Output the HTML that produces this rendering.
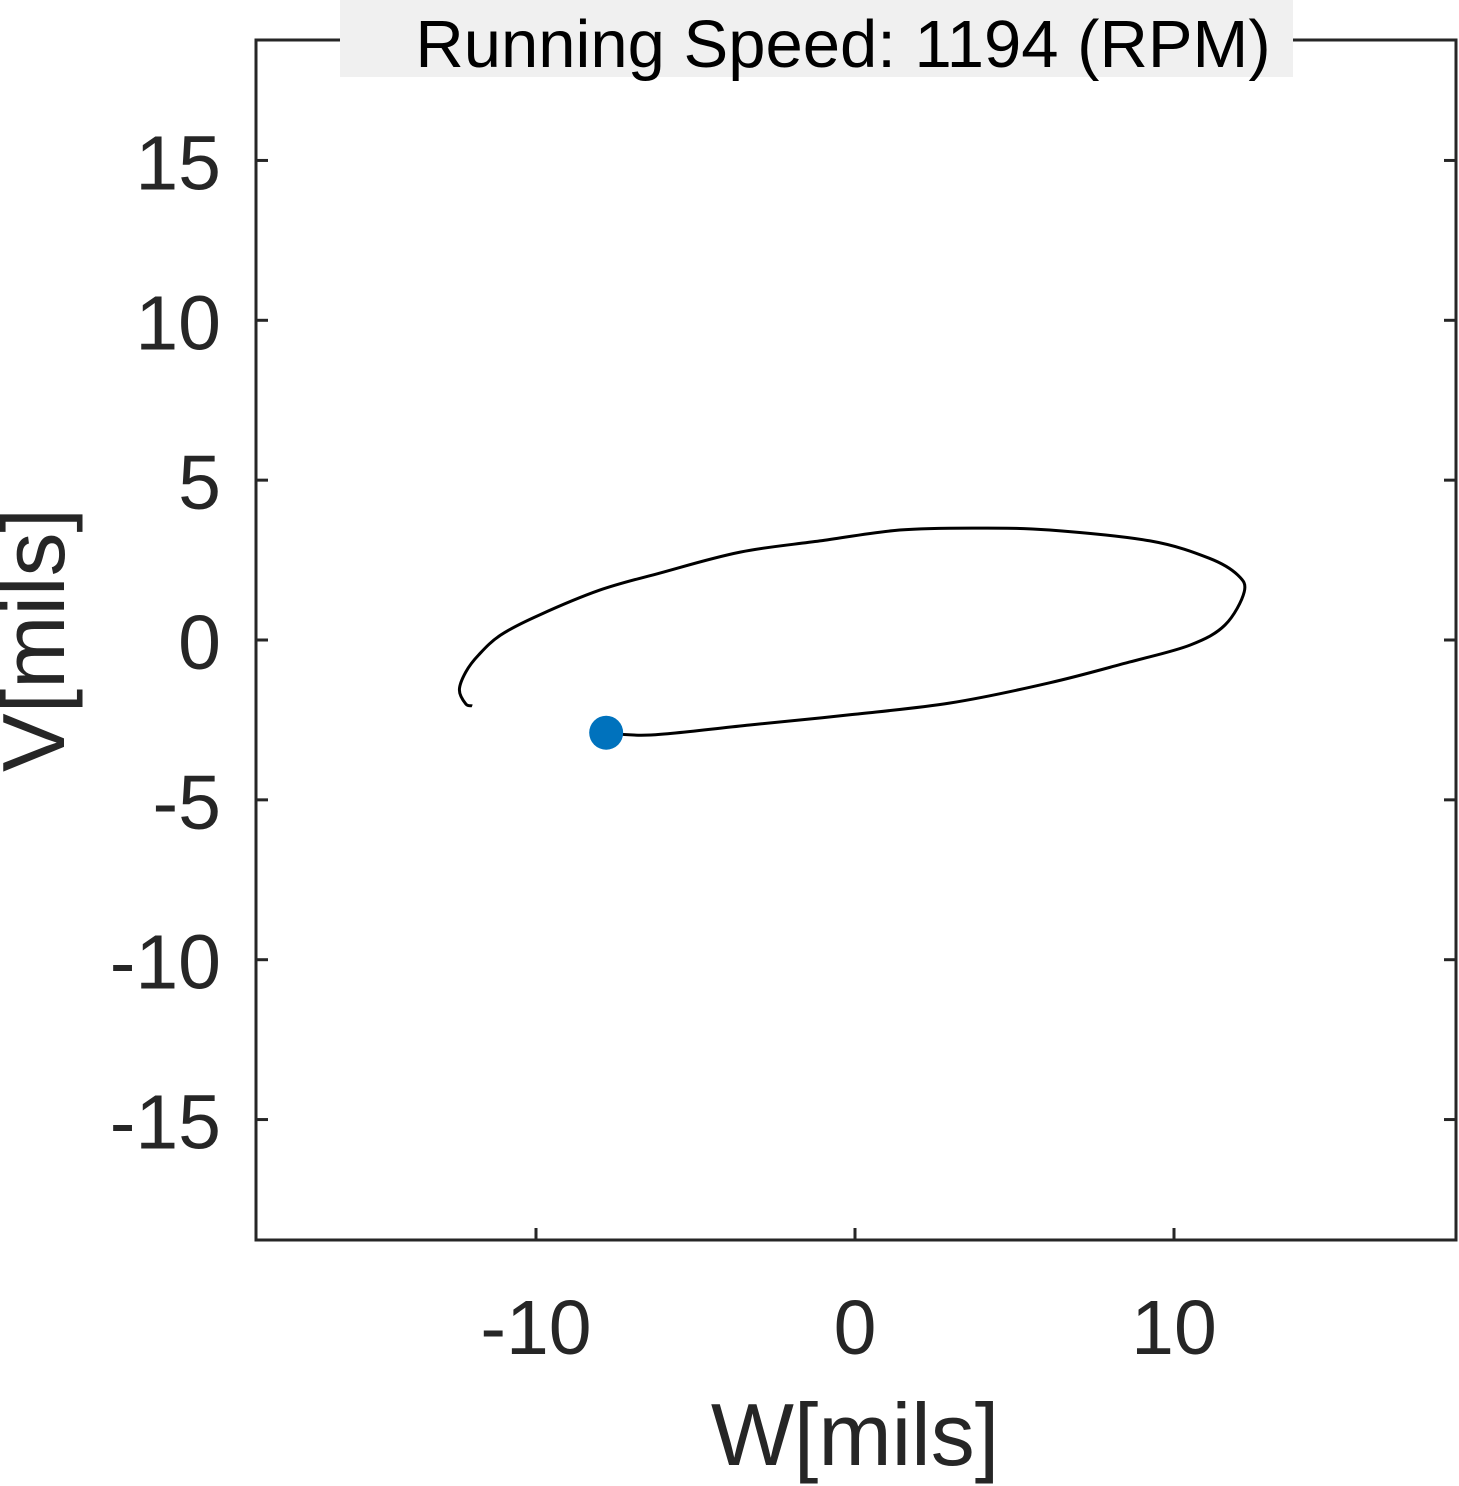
<!DOCTYPE html>
<html><head><meta charset="utf-8"><style>
body{margin:0;background:#fff;}
svg{display:block;font-family:"Liberation Sans",Arial,sans-serif;}
</style></head><body>
<svg id="chart" width="1459" height="1486"></svg>
<script>
const xTicks=[-10,0,10];
const yTicks=[-15,-10,-5,0,5,10,15];
const orbitW=[-7.8,-6.4,-3.3,-0.16,2.98,6.1,8.6,10.5,11.6,12.2,12.0,11.1,9.25,6.1,3.9,1.4,-1.1,-3.6,-6.1,-8.0,-9.9,-11.1,-11.8,-12.2,-12.4,-12.2,-12.0];
const orbitV=[-2.9,-2.97,-2.66,-2.34,-1.97,-1.34,-0.69,-0.16,0.47,1.5,2.03,2.56,3.1,3.44,3.5,3.44,3.1,2.75,2.1,1.56,0.78,0.16,-0.47,-1.0,-1.56,-2.0,-2.06];
const markerW=[-7.8], markerV=[-2.9];
const titleText="Running Speed: 1194 (RPM)";

const L=256,R=1456,T=40,B=1240;
const sx=v=>855+v*31.9;
const sy=v=>640-v*31.97;
const NS="http://www.w3.org/2000/svg";
const svg=document.getElementById('chart');
function mk(tag,attrs,parent){const e=document.createElementNS(NS,tag);for(const k in attrs)e.setAttribute(k,attrs[k]);(parent||svg).appendChild(e);return e;}

const box=mk('rect',{x:L,y:T,width:R-L,height:B-T,fill:'none',stroke:'#262626','stroke-width':3});



xTicks.forEach(t=>{
  const x=sx(t);
  mk('line',{x1:x,x2:x,y1:B,y2:B-12,stroke:'#262626','stroke-width':3});
  mk('line',{x1:x,x2:x,y1:T,y2:T+12,stroke:'#262626','stroke-width':3});
  const tx=mk('text',{x:x,y:1354,'text-anchor':'middle','font-size':77,fill:'#262626'});
  tx.textContent=t;
  
  
});
yTicks.forEach(t=>{
  const y=sy(t);
  mk('line',{x1:L,x2:L+12,y1:y,y2:y,stroke:'#262626','stroke-width':3});
  mk('line',{x1:R,x2:R-12,y1:y,y2:y,stroke:'#262626','stroke-width':3});
  const tx=mk('text',{x:221,y:y+29,'text-anchor':'end','font-size':77,fill:'#262626'});
  tx.textContent=t;
  
  
});

const xl=mk('text',{x:855,y:1465,'text-anchor':'middle','font-size':88,fill:'#262626'});
xl.textContent='W[mils]';


const yl=mk('text',{x:0,y:0,'text-anchor':'middle','font-size':88,fill:'#262626',transform:'translate(64,640) rotate(-90)'});
yl.textContent='V[mils]';



const tb=mk('rect',{x:340,y:0,width:953,height:77,fill:'#f0f0f0'});


const tt=mk('text',{x:843,y:67,'text-anchor':'middle','font-size':67,fill:'#000'});
tt.textContent=titleText;



const P=orbitW.map((w,i)=>[sx(w),sy(orbitV[i])]);
let d='M'+P[0][0].toFixed(1)+' '+P[0][1].toFixed(1);
for(let i=0;i<P.length-1;i++){
  const p0=P[Math.max(0,i-1)],p1=P[i],p2=P[i+1],p3=P[Math.min(P.length-1,i+2)];
  const c1=[p1[0]+(p2[0]-p0[0])/6,p1[1]+(p2[1]-p0[1])/6];
  const c2=[p2[0]-(p3[0]-p1[0])/6,p2[1]-(p3[1]-p1[1])/6];
  d+=' C'+c1[0].toFixed(1)+' '+c1[1].toFixed(1)+' '+c2[0].toFixed(1)+' '+c2[1].toFixed(1)+' '+p2[0].toFixed(1)+' '+p2[1].toFixed(1);
}
const path=mk('path',{d:d,fill:'none',stroke:'#000','stroke-width':3,'stroke-linejoin':'round'});



markerW.forEach((w,i)=>{
  const c=mk('circle',{cx:sx(w),cy:sy(markerV[i]),r:17,fill:'#0072bd'});
  
  
});
</script>
</body></html>
